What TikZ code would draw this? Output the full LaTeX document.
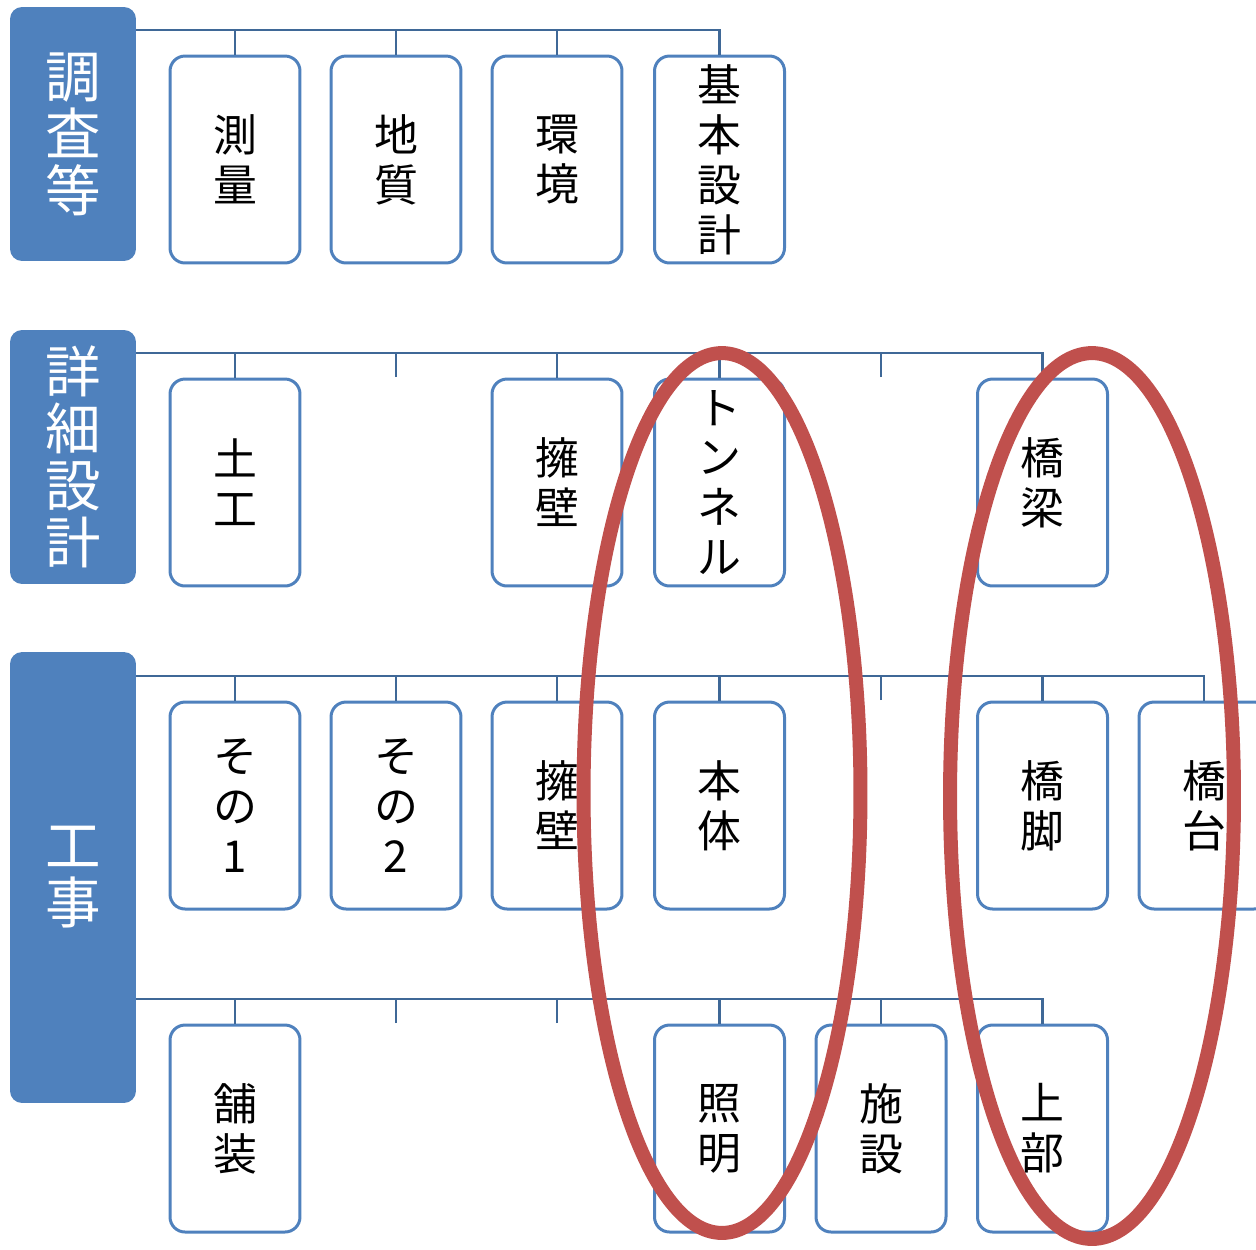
\documentclass[tikz,border=0pt]{standalone}
\usepackage{fontspec}
\setmainfont{Noto Sans CJK JP}
\definecolor{hdr}{HTML}{4F81BD}
\definecolor{conn}{HTML}{3F6897}
\definecolor{ringc}{HTML}{C0504D}
\begin{document}
\begin{tikzpicture}[x=0.02cm,y=-0.02cm,
 hdrbox/.style={fill=hdr, draw=none, rounded corners=0.24cm, minimum width=2.52cm, inner sep=0pt, text=white, align=center, font=\fontsize{31.6}{32.4}\selectfont},
 leaf/.style={draw=hdr, line width=0.06cm, fill=white, rounded corners=0.3cm, minimum width=2.6cm, minimum height=4.14cm, inner sep=0pt, align=center, font=\fontsize{25}{28.45}\selectfont},
 link/.style={draw=conn, line width=0.05cm},
 ring/.style={draw=ringc, line width=0.28cm}]
\useasboundingbox (0,0) rectangle (1256,1249);
\clip (0,0) rectangle (1256,1249);
% headers
\node[hdrbox, minimum height=5.08cm] (h1) at (73,134) {調\\査\\等};
\node[hdrbox, minimum height=5.08cm] (h2) at (73,457) {詳\\細\\設\\計};
\node[hdrbox, minimum height=9.02cm] (h3) at (73,877.5) {工\\事};
% line anchors
\coordinate (l1) at (136,30);
\coordinate (l2) at (136,353);
\coordinate (l3) at (136,676);
\coordinate (l4) at (136,999);
% row 1
\node[leaf] (a1) at (235,159.5) {測\\量};
\node[leaf] (a2) at (396,159.5) {地\\質};
\node[leaf] (a3) at (557,159.5) {環\\境};
\node[leaf] (a4) at (719.5,159.5) {基\\本\\設\\計};
% row 2
\node[leaf] (b1) at (235,482.5) {土\\工};
\node[leaf] (b3) at (557,482.5) {擁\\壁};
\node[leaf] (b4) at (719.5,482.5) {ト\\ン\\ネ\\ル};
\node[leaf] (b6) at (1042.5,482.5) {橋\\梁};
\coordinate (s2a) at (396,377);
\coordinate (s2b) at (881,377);
% row 3
\node[leaf] (c1) at (235,805.5) {そ\\の\\1};
\node[leaf] (c2) at (396,805.5) {そ\\の\\2};
\node[leaf] (c3) at (557,805.5) {擁\\壁};
\node[leaf] (c4) at (719.5,805.5) {本\\体};
\node[leaf] (c6) at (1042.5,805.5) {橋\\脚};
\node[leaf] (c7) at (1204,805.5) {橋\\台};
\coordinate (s3a) at (881,700);
% row 4
\node[leaf] (d1) at (235,1128.5) {舗\\装};
\node[leaf] (d4) at (719.5,1128.5) {照\\明};
\node[leaf] (d5) at (881,1128.5) {施\\設};
\node[leaf] (d6) at (1042.5,1128.5) {上\\部};
\coordinate (s4a) at (396,1023);
\coordinate (s4b) at (557,1023);
% connectors row 1
\draw[link] (l1) -| (a4.north);
\foreach \n in {a1,a2,a3} \draw[link] (\n.north) -- (\n.north |- l1);
% row 2
\draw[link] (l2) -| (b6.north);
\foreach \n in {b1,b3,b4} \draw[link] (\n.north) -- (\n.north |- l2);
\foreach \n in {s2a,s2b} \draw[link] (\n) -- (\n |- l2);
% row 3
\draw[link] (l3) -| (c7.north);
\foreach \n in {c1,c2,c3,c4,c6} \draw[link] (\n.north) -- (\n.north |- l3);
\draw[link] (s3a) -- (s3a |- l3);
% row 4
\draw[link] (l4) -| (d6.north);
\foreach \n in {d1,d4,d5} \draw[link] (\n.north) -- (\n.north |- l4);
\foreach \n in {s4a,s4b} \draw[link] (\n) -- (\n |- l4);
% rings
\draw[ring] (722,793) ellipse [x radius=2.77cm, y radius=8.8cm];
\draw[ring] (1092,796) ellipse [x radius=2.84cm, y radius=8.86cm];
\end{tikzpicture}
\end{document}
